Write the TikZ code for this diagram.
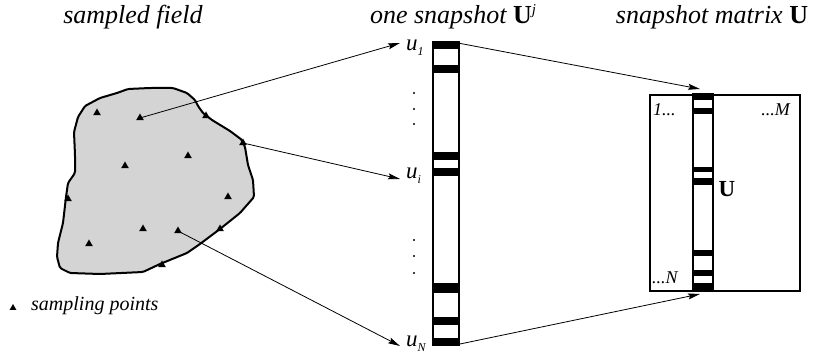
\documentclass[tikz,border=0pt]{standalone}
\usepackage{fontspec}
\setmainfont{Liberation Serif}
\usetikzlibrary{arrows.meta,shapes.geometric}

% a snapshot column: #1 width, #2 height, #3 list of black bands top/bottom
\newcommand\snapcolumn[3]{%
  \foreach \a/\b in {#3}
    \fill (0,\a) rectangle (#1,\b);
  \draw[line width=1.6pt] (0,0) rectangle (#1,#2);}

\newcommand\usub[1]{\textit{u}\raisebox{-5pt}{\fontsize{12}{12}\selectfont\textit{#1}}}

\tikzset{
  title/.style={font=\fontsize{26}{26}\selectfont\itshape, inner sep=0pt},
  tri/.style={regular polygon, regular polygon sides=3, fill=black, inner sep=0pt, minimum size=9pt},
  arr/.style={-{Stealth[length=12pt,width=6pt,inset=2pt]}, line width=0.8pt},
  ulabel/.style={font=\fontsize{23}{23}\selectfont, inner sep=0pt, anchor=west},
  mlabel/.style={font=\fontsize{18}{18}\selectfont\itshape, inner sep=0pt},
  dot/.style={circle, fill=black, inner sep=0pt, minimum size=2.2pt},
}

\begin{document}
\begin{tikzpicture}[x=1pt, y=-1pt]
\useasboundingbox (0,0) rectangle (815,363);

% titles
\node[title] (t1) at (133,17) {sampled field};
\node[title] (t2) at (453,17) {one snapshot \textbf{\upshape U}\raisebox{9pt}{\fontsize{15}{15}\selectfont\textit{j}}};
\node[title] (t3) at (712,17) {snapshot matrix \textbf{\upshape U}};

% the sampled field
\filldraw[fill=black!17, line width=2pt, rounded corners=1.5pt]
  (85,106) -- (100,98) -- (117,93) -- (128,89) -- (150,88) -- (173,88)
  -- (187,93) -- (195,100) -- (198,106) -- (203,113) -- (212,120)
  -- (230,131) -- (242,140) -- (245,147) -- (248,165) -- (253,180)
  -- (254,197) -- (240,213) -- (220,229) -- (200,244) -- (187,253)
  -- (160,264) -- (143,272) -- (100,274) -- (70,273) -- (60,268)
  -- (57,257) -- (58,243) -- (63,223) -- (66,197) -- (68,183)
  -- (75,173) -- (75,155) -- (74,132) -- (78,117) -- cycle;

% sampling points
\foreach \n/\x/\y in {1/97/113, 2/140/118, 3/206/116, 4/243/143, 5/188/156,
                      6/125/166, 7/228/197, 8/68/199, 9/143/229, 10/178/231,
                      11/220/229, 12/89/244, 13/162/265}
  \node[tri] (p\n) at (\x,\y) {};

% legend
\node[tri, minimum size=8pt] (lt) at (13,308) {};
\node[anchor=west, inner sep=0pt, font=\fontsize{20}{20}\selectfont\itshape] (lg) at (31,306) {sampling points};

% one snapshot column
\begin{scope}[shift={(433,41.7)}]
  \snapcolumn{26}{304}{0/7.5, 23/31, 110/118, 126/134, 241/251, 275/283, 296/304}
  \coordinate (ctop) at (26,1.5);
  \coordinate (cbot) at (26,302.5);
\end{scope}

% entry labels
\node[ulabel] (u1) at (406,48) {\usub{1}};
\node[ulabel] (ui) at (406,176) {\usub{i}};
\node[ulabel] (uN) at (406,344) {\usub{N}};

\foreach \y [count=\k] in {93,109,124,240,256,273}
  \node[dot] (d\k) at (414,\y) {};

% snapshot matrix
\node[draw, line width=1.6pt, minimum width=150pt, minimum height=196pt, inner sep=0pt, anchor=north west] (mat) at (649,94) {};
\begin{scope}[shift={(693,94)}]
  \snapcolumn{20}{196}{0/6, 14/20.5, 73/78.5, 84/91, 156/162.5, 176/182.5, 189/196}
  \coordinate (mtop) at (7,-5);
  \coordinate (mbot) at (7,200);
\end{scope}
\node[mlabel, anchor=west] (m1) at (653,110) {1...};
\node[mlabel, anchor=east] (mM) at (790,110) {...M};
\node[mlabel, anchor=west] (mN) at (652,278) {...N};
\node[font=\fontsize{23}{23}\selectfont\bfseries, inner sep=0pt] (mU) at (727,189) {U};

% connectors
\draw[arr] (p2.center) -- ([xshift=-6pt,yshift=5pt]u1.west);
\draw[arr] (p4.center) -- ([xshift=-6pt,yshift=-3pt]ui.west);
\draw[arr] (p10.center) -- ([xshift=-6pt,yshift=-2pt]uN.west);
\draw[arr] (ctop) -- (mtop);
\draw[arr] (cbot) -- (mbot);
\end{tikzpicture}
\end{document}
